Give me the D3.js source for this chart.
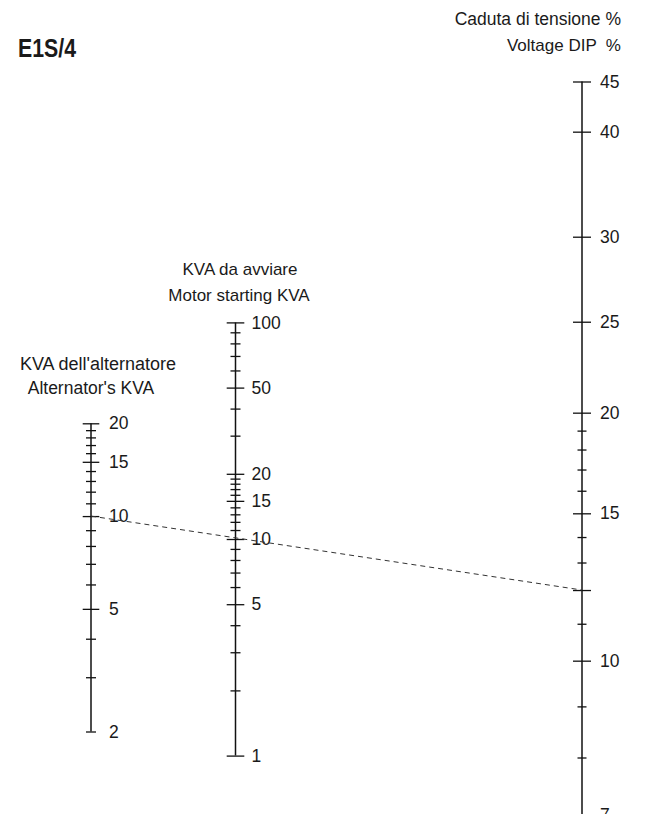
<!DOCTYPE html>
<html>
<head>
<meta charset="utf-8">
<script src="https://cdn.jsdelivr.net/npm/d3@7"></script>
<style>
  html, body { margin: 0; padding: 0; background: #fff; }
  svg { display: block; }
  text { font-family: "Liberation Sans", Arial, sans-serif; fill: #1a1a1a; }
</style>
</head>
<body>
<svg id="chart" width="649" height="814"></svg>
<script>
// Alternator rating scale (KVA)
const altTicks  = [2, 3, 4, 5, 6, 7, 8, 9, 10, 11, 12, 13, 14, 15, 16, 17, 18, 19, 20];
const altLabels = [2, 5, 10, 15, 20];
const altMajor  = [5, 10, 15, 20];

// Motor starting KVA scale
const motorTicks  = [1, 2, 3, 4, 5, 6, 7, 8, 9, 10, 11, 12, 13, 14, 15, 16, 17, 18, 19, 20,
                     30, 40, 50, 60, 70, 80, 90, 100];
const motorLabels = [1, 5, 10, 15, 20, 50, 100];
const motorMajor  = [1, 5, 10, 15, 20, 50, 100];

// Voltage dip scale (%)
const dipTicks  = [7, 8, 9, 10, 11, 12, 13, 14, 15, 16, 17, 18, 19, 20, 25, 30, 40, 45];
const dipLabels = [7, 10, 15, 20, 25, 30, 40, 45];
const dipMajor  = [7, 10, 12, 15, 20, 25, 30, 40, 45];
// The dip scale is graduated unevenly: graduation stops and their
// relative position along the scale (0 = 45 %, 1 = 7 %).
const dipStops     = [45, 40, 30, 25, 20, 15, 12, 10, 8, 7];
const dipStopFrac  = [0, 0.0684, 0.2116, 0.3275, 0.4515, 0.5887, 0.6933, 0.7896, 0.9216, 1];

// Worked example drawn across the nomogram
const exampleAlt = 10;
const exampleDip = 12;

const svg = d3.select("#chart");

const xAlt = 91, xMotor = 235.5, xDip = 582;

const yAlt   = d3.scaleLog().domain([2, 20]).range([731.5, 423.3]);
const yMotor = d3.scaleLog().domain([1, 100]).range([755.6, 322.4]);
const dipTop = 81.5, dipBottom = 815;
const yDip = d3.scaleLog()
  .domain(dipStops)
  .range(dipStopFrac.map(f => dipTop + f * (dipBottom - dipTop)));

function drawScale(x, scale, ticks, labels, major, opts) {
  const axis = d3.axisRight(scale)
    .tickValues(ticks)
    .tickSizeOuter(0)
    .tickSizeInner(0)
    .tickPadding(opts.pad)
    .tickFormat(d => labels.includes(d) ? d3.format("d")(d) : "");

  const g = svg.append("g")
    .attr("transform", `translate(${x},0)`)
    .call(axis);

  g.select(".domain").remove();
  g.selectAll(".tick text")
    .attr("font-size", 17.5)
    .attr("font-family", null)
    .attr("fill", "#1a1a1a");
  g.selectAll(".tick line")
    .attr("x1", d => major.includes(d) ? -opts.major : -opts.minor)
    .attr("x2", d => major.includes(d) ? opts.major : opts.minor)
    .attr("stroke", "#111")
    .attr("stroke-width", 1.3);

  const [r0, r1] = opts.extent || d3.extent(ticks.map(scale));
  g.append("line")
    .attr("x1", 0).attr("x2", 0)
    .attr("y1", r0).attr("y2", r1)
    .attr("stroke", "#111")
    .attr("stroke-width", 1.5);
  return g;
}

drawScale(xAlt, yAlt, altTicks, altLabels, altMajor, { pad: 18, major: 8.3, minor: 5 });
drawScale(xMotor, yMotor, motorTicks, motorLabels, motorMajor, { pad: 16, major: 8.8, minor: 5 });
drawScale(xDip, yDip, dipTicks, dipLabels, dipMajor,
  { pad: 18, major: 9, minor: 4.5, extent: [yDip(45), 814] });

// Reading line through alternator KVA and voltage dip
svg.append("line")
  .attr("x1", xAlt).attr("y1", yAlt(exampleAlt))
  .attr("x2", xDip).attr("y2", yDip(exampleDip))
  .attr("stroke", "#333")
  .attr("stroke-width", 1)
  .attr("stroke-dasharray", "5,4");

// Chart code, set in a condensed bold face
svg.append("text")
  .attr("x", 18).attr("y", 57)
  .attr("font-size", 25)
  .attr("font-weight", "bold")
  .attr("fill", "#3a3a3a")
  .attr("textLength", 58)
  .attr("lengthAdjust", "spacingAndGlyphs")
  .text("E1S/4");

const titles = [
  { x: 621, y: 25,  anchor: "end",    size: 17.5, text: "Caduta di tensione %" },
  { x: 621, y: 51,  anchor: "end",    size: 17,   text: "Voltage DIP  %" },
  { x: 240, y: 275, anchor: "middle", size: 17,   text: "KVA da avviare" },
  { x: 239, y: 301, anchor: "middle", size: 17,   text: "Motor starting KVA" },
  { x: 98,  y: 370, anchor: "middle", size: 18,   text: "KVA dell'alternatore" },
  { x: 91,  y: 394, anchor: "middle", size: 17.5, text: "Alternator's KVA" }
];
svg.selectAll("text.title")
  .data(titles)
  .join("text")
  .attr("class", "title")
  .attr("x", d => d.x).attr("y", d => d.y)
  .attr("text-anchor", d => d.anchor)
  .attr("font-size", d => d.size)
  .style("white-space", "pre")
  .attr("xml:space", "preserve")
  .text(d => d.text);
</script>
</body>
</html>
